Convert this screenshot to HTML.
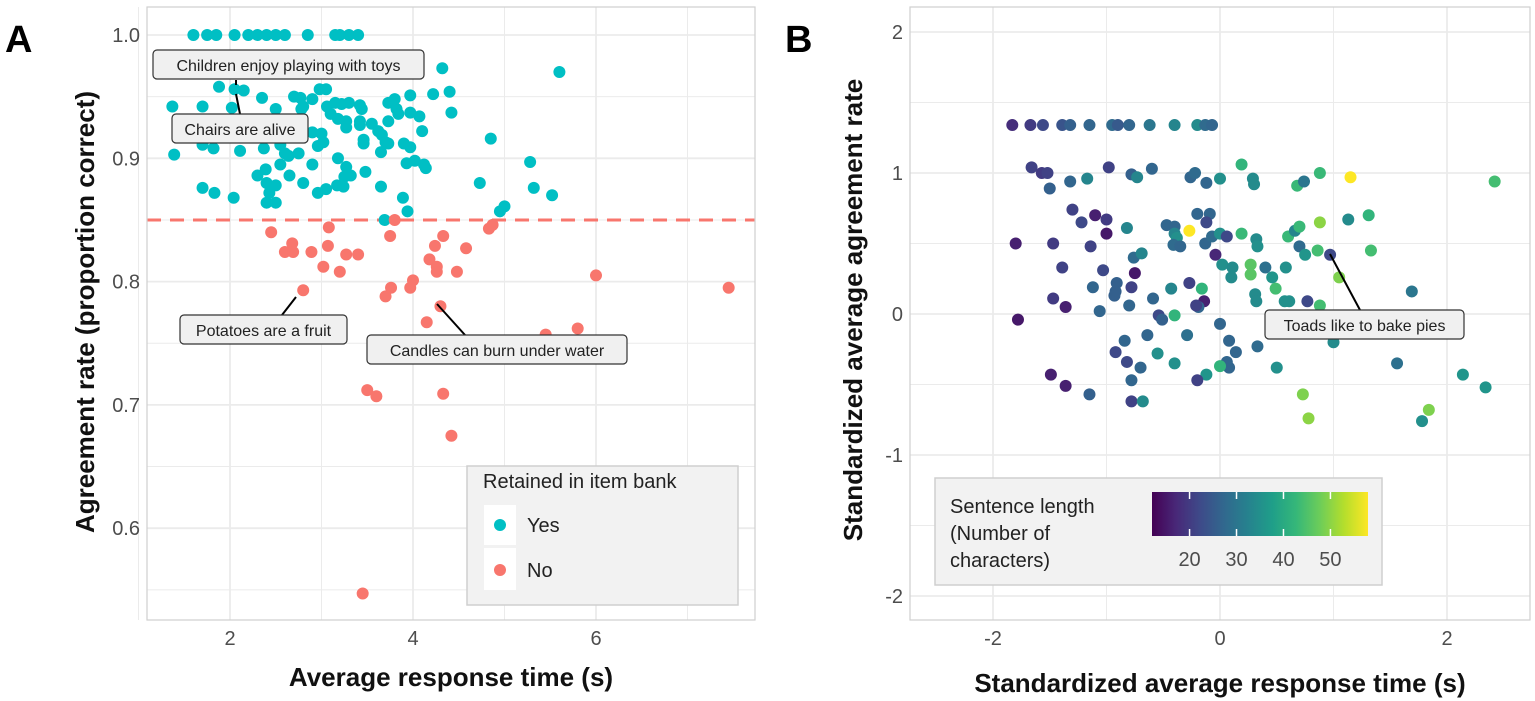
<!DOCTYPE html>
<html><head><meta charset="utf-8"><style>
body{margin:0;background:#fff;}
svg{display:block;font-family:"Liberation Sans",sans-serif;}
</style></head><body>
<svg id="c" width="1535" height="701"></svg>
<script>
const aYesX=[1.6,1.75,1.85,2.05,2.2,2.3,2.4,2.5,2.6,2.85,3.15,3.2,3.3,3.4,4.32,5.6,1.88,2.05,2.15,2.35,1.37,1.7,2.02,2.7,2.77,2.9,2.98,3.05,3.06,3.15,3.22,3.3,3.42,3.44,3.73,3.8,3.82,3.84,3.97,3.97,4.07,4.22,4.4,4.42,4.1,4.85,2.8,2.78,2.5,3.1,3.18,3.27,3.27,3.42,3.42,3.55,3.62,3.66,3.73,3.46,3.46,3.7,3.73,3.9,3.97,3.65,2.9,3.0,3.02,2.96,1.39,1.7,1.82,2.11,2.37,2.55,2.6,2.64,2.75,3.18,2.9,2.55,3.27,3.32,3.25,3.48,2.39,2.3,2.4,2.5,2.43,2.65,2.8,3.05,2.96,3.17,3.24,3.65,3.93,4.02,4.12,4.14,1.7,1.83,2.04,2.4,2.5,3.89,3.94,4.73,5.28,5.32,5.52,4.95,5.0,3.69];
const aYesY=[1,1,1,1,1,1,1,1,1,1,1,1,1,1,.973,.97,.958,.956,.955,.949,.942,.942,.941,.95,.949,.948,.956,.956,.942,.945,.944,.945,.943,.94,.945,.948,.94,.936,.951,.937,.934,.952,.954,.937,.922,.916,.942,.94,.94,.936,.932,.93,.925,.93,.927,.928,.922,.919,.93,.915,.912,.913,.912,.912,.909,.905,.921,.92,.913,.91,.903,.911,.908,.906,.908,.911,.904,.902,.904,.9,.895,.895,.893,.886,.885,.889,.891,.886,.88,.878,.872,.886,.88,.875,.872,.878,.877,.877,.896,.898,.895,.892,.876,.872,.868,.864,.864,.868,.857,.88,.897,.876,.87,.857,.861,.85];
const aNoX=[3.8,3.08,2.45,3.75,2.68,2.6,2.69,2.89,3.07,3.27,3.4,3.02,3.2,2.8,3.76,4.0,4.18,4.24,4.33,4.26,4.26,4.48,4.58,4.3,4.83,4.87,6.0,7.45,5.8,5.45,4.15,3.5,3.6,4.33,4.42,3.45,3.7,3.97];
const aNoY=[.85,.844,.84,.837,.831,.824,.824,.824,.829,.822,.822,.812,.808,.793,.795,.801,.818,.829,.837,.812,.808,.808,.827,.78,.843,.846,.805,.795,.762,.757,.767,.712,.707,.709,.675,.547,.788,.795];
const bX=[-1.83,-1.67,-1.56,-1.39,-1.32,-1.15,-0.95,-0.9,-0.8,-0.62,-0.4,-0.2,-0.13,-0.07,-1.66,-1.57,-1.52,-1.5,-1.32,-1.17,-0.98,-0.78,-0.73,-0.6,-0.26,-0.22,-0.12,0,0.19,0.29,0.3,0.68,0.74,0.88,1.15,-1.3,-1.22,-1.1,-1.0,-1.0,-0.82,-1.8,-1.47,-1.14,-0.47,-0.4,-0.4,-0.38,-0.41,-0.35,-0.27,-0.2,-0.09,-0.12,-0.13,-0.07,0,0.06,0.19,0.32,0.33,0.6,0.66,0.7,0.88,1.13,1.31,0.7,0.75,0.86,0.97,1.33,1.05,-0.04,-0.76,-0.69,-1.39,-1.03,-0.75,0.02,0.11,0.1,0.27,0.27,0.4,0.46,0.58,0.49,1.69,-1.12,-0.91,-0.92,-0.93,-0.78,-1.47,-1.36,-1.06,-0.8,-0.59,-0.43,-0.27,-0.16,-0.14,-0.19,-0.21,0.31,0.32,0.57,0.61,0.77,0.88,-1.78,-0.54,-0.51,-0.4,0,1.0,-0.64,-0.84,-0.92,-0.82,-0.7,-0.78,-1.15,-0.78,-0.68,-1.49,-1.36,-0.55,-0.4,-0.29,0.08,0.14,0.06,0.08,0,-0.12,-0.2,0.33,0.5,1.56,2.14,2.34,0.73,0.78,1.84,1.78,2.42];
const bY=[1.34,1.34,1.34,1.34,1.34,1.34,1.34,1.34,1.34,1.34,1.34,1.34,1.34,1.34,1.04,1.0,1.0,.89,.94,.96,1.04,.99,.97,1.03,.97,1.0,.93,.96,1.06,.96,.92,.91,.94,1.0,.97,.74,.65,.70,.67,.57,.61,.50,.50,.48,.63,.62,.57,.54,.49,.48,.59,.71,.71,.65,.50,.55,.57,.55,.57,.53,.48,.55,.59,.62,.65,.67,.70,.48,.42,.45,.42,.45,.26,.42,.40,.43,.33,.31,.29,.35,.33,.26,.35,.28,.33,.26,.33,.18,.16,.19,.22,.16,.13,.19,.11,.05,.02,.06,.11,.18,.22,.18,.09,.05,.06,.14,.09,.09,.09,.09,.06,-.04,-.01,-.04,-.01,-.07,-.2,-.15,-.19,-.27,-.34,-.38,-.47,-.57,-.62,-.62,-.43,-.51,-.28,-.35,-.15,-.19,-.27,-.34,-.38,-.37,-.43,-.47,-.23,-.38,-.35,-.43,-.52,-.57,-.74,-.68,-.76,.94];
const bLen=[18,20,22,24,26,27,28,25,27,30,33,34,28,27,21,20,21,26,27,33,21,26,33,27,27,28,27,35,42,34,34,43,30,43,58,21,22,16,20,15,33,16,20,21,27,27,33,35,28,27,58,27,27,22,27,28,35,22,43,34,35,43,33,43,50,34,42,28,36,44,22,44,49,17,28,33,21,22,15,35,34,34,46,46,29,36,35,44,30,27,26,26,26,21,20,16,27,27,27,33,21,42,16,27,21,34,34,35,35,22,44,15,22,26,42,27,34,27,27,22,22,27,27,26,21,34,16,16,35,35,29,27,27,27,27,42,36,21,28,35,29,36,36,49,50,49,35,44];
const cbTicks=[20,30,40,50];
const NS="http://www.w3.org/2000/svg";
const svg=document.getElementById('c');
function mk(t,a,txt){const e=document.createElementNS(NS,t);for(const k in a)e.setAttribute(k,a[k]);if(txt!==undefined)e.textContent=txt;svg.appendChild(e);return e;}
const ax=v=>47+v*91.5, ay=v=>35+(1-v)*1233;
const bx=v=>1220+v*113.5, by=v=>314-v*141;
function panel(x0,x1,y0,y1,name){const r=mk('rect',{x:x0,y:y0,width:x1-x0,height:y1-y0,fill:'#fff'});}
panel(147,755,7,620,'panel-a');panel(910,1530,7,620,'panel-b');
function vline(x,y0,y1,w){mk('line',{x1:x,x2:x,y1:y0,y2:y1,stroke:'#ebebeb','stroke-width':w});}
function hline(y,x0,x1,w){mk('line',{x1:x0,x2:x1,y1:y,y2:y,stroke:'#ebebeb','stroke-width':w});}
[1,3,5,7].forEach(v=>vline(ax(v),7,620,1));
[.55,.65,.75,.85,.95].forEach(v=>hline(ay(v),147,755,1));
[2,4,6].forEach(v=>vline(ax(v),7,620,1.8));
[.6,.7,.8,.9,1].forEach(v=>hline(ay(v),147,755,1.8));
[-1,1].forEach(v=>vline(bx(v),7,620,1));
[-1.5,-.5,.5,1.5].forEach(v=>hline(by(v),910,1530,1));
[-2,0,2].forEach(v=>vline(bx(v),7,620,1.8));
[-2,-1,0,1,2].forEach(v=>hline(by(v),910,1530,1.8));
[2,4,6].forEach(v=>{const t=mk('text',{x:ax(v),y:645,'text-anchor':'middle','font-size':20,fill:'#4d4d4d'},v);});
[.6,.7,.8,.9,1].forEach(v=>{const t=mk('text',{x:140,y:ay(v)+7,'text-anchor':'end','font-size':20,fill:'#4d4d4d'},v.toFixed(1));});
[-2,0,2].forEach(v=>{const t=mk('text',{x:bx(v),y:645,'text-anchor':'middle','font-size':20,fill:'#4d4d4d'},v);});
[-2,-1,0,1,2].forEach(v=>{const t=mk('text',{x:903,y:by(v)+7,'text-anchor':'end','font-size':20,fill:'#4d4d4d'},v);});
const dl=mk('line',{x1:147,x2:755,y1:ay(.85),y2:ay(.85),stroke:'#f8766d','stroke-width':3,'stroke-dasharray':'14 9'});

aYesX.forEach((v,i)=>{const c=mk('circle',{cx:ax(v),cy:ay(aYesY[i]),r:6,fill:'#00bfc4'});});
aNoX.forEach((v,i)=>{const c=mk('circle',{cx:ax(v),cy:ay(aNoY[i]),r:6,fill:'#f8766d'});});
const vir=[[68,1,84],[72,40,120],[62,74,137],[49,104,142],[38,130,142],[31,158,137],[53,183,121],[109,205,89],[180,222,44],[253,231,37]];
function viridis(t){t=Math.max(0,Math.min(1,t))*9;const i=Math.min(8,Math.floor(t)),f=t-i;const a=vir[i],b=vir[i+1];return 'rgb('+a.map((v,k)=>Math.round(v+(b[k]-v)*f)).join(',')+')';}
const lmin=12,lmax=58;
bX.forEach((v,i)=>{const c=mk('circle',{cx:bx(v),cy:by(bY[i]),r:6,fill:viridis((bLen[i]-lmin)/(lmax-lmin))});});
mk('rect',{x:147,y:7,width:608,height:613,fill:'none',stroke:'#cfcfcf','stroke-width':1.2});
mk('rect',{x:910,y:7,width:620,height:613,fill:'none',stroke:'#cfcfcf','stroke-width':1.2});
function label(x,y,w,txt,name,sx1,sy1,sx2,sy2){mk('line',{x1:sx1,y1:sy1,x2:sx2,y2:sy2,stroke:'#000','stroke-width':2});const r=mk('rect',{x:x,y:y,width:w,height:29,rx:4,fill:'#f0f0f0',stroke:'#333','stroke-width':1.2});mk('text',{x:x+w/2,y:y+21,'text-anchor':'middle','font-size':16,fill:'#222'},txt);}
label(153,50,271,'Children enjoy playing with toys','label-children',236,85,236,80);
label(172,114,136,'Chairs are alive','label-chairs',236,94,240,114);
label(180,315,167,'Potatoes are a fruit','label-potatoes',296,297,282,315);
label(367,335,260,'Candles can burn under water','label-candles',437,304,465,335);
label(1265,310,199,'Toads like to bake pies','label-toads',1330,254,1360,310);
const lg=mk('rect',{x:467,y:466,width:271,height:139,fill:'#f2f2f2',stroke:'#cfcfcf','stroke-width':1.5});
mk('text',{x:483,y:488,'font-size':20,fill:'#222'},'Retained in item bank');
mk('rect',{x:484,y:505,width:32,height:40,fill:'#fff'});mk('rect',{x:484,y:548,width:32,height:42,fill:'#fff'});
mk('circle',{cx:500,cy:525,r:6,fill:'#00bfc4'});mk('text',{x:527,y:532,'font-size':20,fill:'#222'},'Yes');
mk('circle',{cx:500,cy:570,r:6,fill:'#f8766d'});mk('text',{x:527,y:577,'font-size':20,fill:'#222'},'No');
const lb=mk('rect',{x:935,y:478,width:447,height:107,fill:'#f2f2f2',stroke:'#cfcfcf','stroke-width':1.5});
mk('text',{x:950,y:513,'font-size':20,fill:'#222'},'Sentence length');
mk('text',{x:950,y:540,'font-size':20,fill:'#222'},'(Number of');
mk('text',{x:950,y:567,'font-size':20,fill:'#222'},'characters)');
const defs=mk('defs',{});const gr=document.createElementNS(NS,'linearGradient');gr.setAttribute('id','vg');defs.appendChild(gr);
vir.forEach((c,i)=>{const s=document.createElementNS(NS,'stop');s.setAttribute('offset',(i/9*100)+'%');s.setAttribute('stop-color','rgb('+c.join(',')+')');gr.appendChild(s);});
const cbX0=1152,cbW=216;
const cb=mk('rect',{x:cbX0,y:492,width:cbW,height:44,fill:'url(#vg)'});
const cbx=v=>cbX0+(v-lmin)/(lmax-lmin)*cbW;
cbTicks.forEach(v=>{mk('line',{x1:cbx(v),x2:cbx(v),y1:492,y2:499,stroke:'#fff','stroke-width':1.5});mk('line',{x1:cbx(v),x2:cbx(v),y1:529,y2:536,stroke:'#fff','stroke-width':1.5});mk('text',{x:cbx(v),y:566,'text-anchor':'middle','font-size':20,fill:'#4d4d4d'},v);});
const t1=mk('text',{x:451,y:686,'text-anchor':'middle','font-size':26,'font-weight':'bold',fill:'#111'},'Average response time (s)');
const t2=mk('text',{x:0,y:0,transform:'translate(94,312) rotate(-90)','text-anchor':'middle','font-size':26,'font-weight':'bold',fill:'#111'},'Agreement rate (proportion correct)');
const t3=mk('text',{x:1220,y:692,'text-anchor':'middle','font-size':26,'font-weight':'bold',fill:'#111'},'Standardized average response time (s)');
const t4=mk('text',{x:0,y:0,transform:'translate(862,310) rotate(-90)','text-anchor':'middle','font-size':26,'font-weight':'bold',fill:'#111'},'Standardized average agreement rate');
const pa=mk('text',{x:5,y:52,'font-size':38,'font-weight':'bold',fill:'#000'},'A');
const pb=mk('text',{x:785,y:52,'font-size':38,'font-weight':'bold',fill:'#000'},'B');
</script>
</body></html>
